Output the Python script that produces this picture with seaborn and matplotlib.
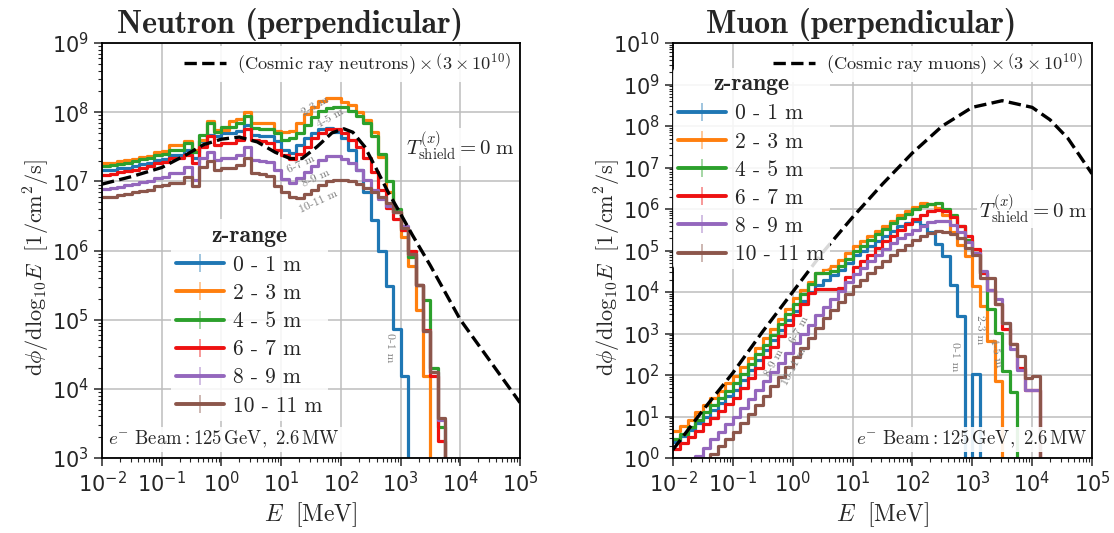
import numpy as np
import pandas as pd
import matplotlib
matplotlib.use('Agg')
import matplotlib.pyplot as plt
import seaborn as sns
from matplotlib.lines import Line2D
from matplotlib.colors import to_rgba
from matplotlib.ticker import LogLocator, NullFormatter

# ---- data (log10 values) ----
# histogram bins: width 0.125 in log10(E/MeV), first edge at 10^-2 MeV
log_e_lo = -2.0
dlog_e = 0.125

z_ranges = ['0 - 1 m', '2 - 3 m', '4 - 5 m', '6 - 7 m', '8 - 9 m', '10 - 11 m']

# neutron, log10(dphi/dlog10E), None = empty bin
n_z01 = [7.16, 7.17, 7.19, 7.20, 7.22, 7.25, 7.27, 7.31, 7.32, 7.38,
         7.38, 7.46, 7.34, 7.58, 7.67, 7.65, 7.70, 7.70, 7.73, 7.82,
         7.67, 7.65, 7.65, 7.58, 7.45, 7.41, 7.53, 7.62, 7.70, 7.75,
         7.77, 7.72, 7.62, 7.45, 7.17, 6.85, 6.44, 5.99, 5.48, 4.86,
         4.18]
n_z23 = [7.26, 7.27, 7.29, 7.31, 7.32, 7.35, 7.37, 7.42, 7.44, 7.52,
         7.52, 7.58, 7.45, 7.60, 7.87, 7.74, 7.74, 7.87, 7.90, 8.00,
         7.84, 7.84, 7.84, 7.73, 7.72, 7.73, 7.84, 7.98, 8.07, 8.16,
         8.20, 8.20, 8.15, 8.10, 8.00, 7.88, 7.72, 7.35, 6.85, 6.55,
         6.20, 5.77, 5.14, 4.18]
n_z45 = [7.22, 7.23, 7.25, 7.27, 7.29, 7.32, 7.34, 7.38, 7.40, 7.45,
         7.45, 7.55, 7.43, 7.67, 7.84, 7.72, 7.79, 7.79, 7.84, 7.94,
         7.77, 7.75, 7.75, 7.70, 7.60, 7.62, 7.70, 7.82, 7.93, 8.02,
         8.06, 8.08, 8.08, 8.02, 7.95, 7.85, 7.65, 7.40, 7.00, 6.60,
         6.30, 5.90, 5.50, 5.29, 4.30, 3.45]
n_z67 = [7.09, 7.10, 7.13, 7.15, 7.17, 7.20, 7.22, 7.26, 7.28, 7.34,
         7.34, 7.38, 7.26, 7.50, 7.65, 7.53, 7.55, 7.55, 7.60, 7.75,
         7.60, 7.58, 7.56, 7.46, 7.38, 7.32, 7.40, 7.50, 7.62, 7.70,
         7.75, 7.75, 7.70, 7.60, 7.50, 7.34, 7.14, 6.88, 6.62, 6.45,
         6.30, 6.00, 5.50, 4.85, 4.18, 3.25]
n_z89 = [6.89, 6.90, 6.92, 6.94, 6.96, 6.99, 7.01, 7.05, 7.07, 7.12,
         7.12, 7.21, 7.02, 7.34, 7.43, 7.31, 7.34, 7.34, 7.38, 7.50,
         7.31, 7.29, 7.28, 7.17, 7.03, 6.98, 7.05, 7.14, 7.22, 7.31,
         7.36, 7.36, 7.33, 7.26, 7.17, 7.02, 6.88, 6.74, 6.65, 6.55,
         6.35, 5.95, 5.50, 4.83, 4.25, 3.55]
n_z1011 = [6.77, 6.78, 6.80, 6.82, 6.84, 6.86, 6.88, 6.93, 6.94, 6.98,
           6.98, 7.07, 6.93, 7.21, 7.29, 7.17, 7.19, 7.19, 7.24, 7.34,
           7.12, 7.10, 7.08, 6.93, 6.85, 6.78, 6.76, 6.81, 6.88, 6.95,
           7.00, 7.02, 7.02, 7.00, 6.96, 6.90, 6.85, 6.78, 6.68, 6.55,
           6.32, 5.95, 5.50, 4.83, 4.25, 3.58]

# muon
m_z01 = [0.38, 0.52, 0.68, 0.84, 1.00, 1.16, 1.33, 1.49, 1.65, 1.88,
         2.12, 2.36, 2.60, 2.84, 3.08, 3.32, 3.55, 3.78, 4.00, 4.18,
         4.30, 4.40, 4.52, 4.70, 4.88, 5.00, 5.12, 5.24, 5.36, 5.48,
         5.58, 5.66, 5.70, 5.62, 5.45, 5.15, 4.86, 4.18, 3.42, None,
         2.02]
m_z23 = [0.64, 0.76, 0.92, 1.10, 1.28, 1.45, 1.62, 1.80, 1.97, 2.20,
         2.42, 2.65, 2.88, 3.12, 3.36, 3.60, 3.85, 4.05, 4.25, 4.45,
         4.55, 4.62, 4.76, 4.93, 5.10, 5.22, 5.35, 5.47, 5.60, 5.72,
         5.85, 5.96, 6.06, 6.15, 6.12, 6.02, 5.85, 5.45, 5.14, 4.86,
         4.14, 3.66, 2.82, 1.85]
m_z45 = [0.45, 0.58, 0.74, 0.92, 1.10, 1.27, 1.44, 1.62, 1.80, 2.03,
         2.26, 2.50, 2.73, 2.97, 3.22, 3.46, 3.70, 3.95, 4.20, 4.45,
         4.47, 4.50, 4.62, 4.80, 4.98, 5.12, 5.26, 5.40, 5.53, 5.66,
         5.78, 5.89, 5.99, 6.07, 6.13, 6.14, 6.00, 5.85, 5.60, 5.25,
         4.94, 4.46, 3.60, 3.02, 2.09, 1.60]
m_z67 = [0.22, 0.35, 0.50, 0.66, 0.82, 0.97, 1.13, 1.29, 1.45, 1.68,
         1.92, 2.17, 2.43, 2.68, 2.94, 3.20, 3.45, 3.72, 3.98, 4.07,
         4.07, 4.08, 4.10, 4.35, 4.60, 4.75, 4.90, 5.06, 5.22, 5.36,
         5.50, 5.63, 5.75, 5.85, 5.95, 5.98, 5.96, 5.80, 5.59, 5.35,
         5.03, 4.46, 4.06, 3.70, 3.10, 2.75, 2.17, 1.65, 1.65]
m_z89 = [None, None, None, 0.05, 0.25, 0.45, 0.63, 0.81, 0.98, 1.20,
         1.42, 1.64, 1.86, 2.08, 2.30, 2.53, 2.76, 2.99, 3.21, 3.44,
         3.65, 3.84, 4.03, 4.23, 4.43, 4.59, 4.74, 4.89, 5.04, 5.17,
         5.29, 5.40, 5.50, 5.60, 5.68, 5.72, 5.70, 5.62, 5.45, 5.20,
         4.95, 4.50, 4.06, 3.82, 3.26, 2.62, 2.13, 1.65, 1.65]
m_z1011 = [None, None, None, None, None, 0.10, 0.28, 0.45, 0.62, 0.84,
           1.06, 1.28, 1.50, 1.73, 1.96, 2.20, 2.43, 2.66, 2.90, 3.14,
           3.37, 3.56, 3.76, 3.95, 4.14, 4.30, 4.45, 4.60, 4.75, 4.88,
           5.01, 5.13, 5.25, 5.35, 5.43, 5.46, 5.45, 5.39, 5.30, 5.06,
           4.90, 4.34, 4.34, 3.70, 3.26, 2.74, 2.45, 1.93, 1.97]

# cosmic ray reference curves (x 3e10): log10 E, log10 flux
cr_n_loge = [-2.0, -1.5, -1.0, -0.6, -0.3, 0.0, 0.3, 0.6, 0.9, 1.15, 1.35, 1.6,
             1.85, 2.05, 2.2, 2.4, 2.6, 2.8, 3.0, 3.2, 3.5, 4.0, 4.5, 5.0]
cr_n_logf = [6.96, 7.07, 7.20, 7.38, 7.53, 7.61, 7.64, 7.57, 7.42, 7.33, 7.33, 7.50,
             7.70, 7.76, 7.71, 7.50, 7.17, 6.83, 6.53, 6.22, 5.78, 5.00, 4.40, 3.80]
cr_m_loge = [-2.0, -1.5, -1.0, -0.5, 0.0, 0.5, 1.0, 1.5, 2.0, 2.5, 3.0, 3.5,
             4.0, 4.3, 4.6, 5.0]
cr_m_logf = [0.20, 1.15, 2.05, 3.05, 4.00, 4.95, 5.80, 6.60, 7.35, 8.00, 8.45, 8.61,
             8.45, 8.15, 7.70, 6.85]

colors = ['#1f77b4', '#ff7f0e', '#2ca02c', '#ee1111', '#9467bd', '#8c564b']


def stairs(vals, floor=1e-6):
    xs, ys = [], []
    for i, v in enumerate(vals):
        xs.append(10 ** (log_e_lo + i * dlog_e))
        ys.append(floor if v is None else 10 ** v)
    xs.append(10 ** (log_e_lo + len(vals) * dlog_e))
    ys.append(ys[-1])
    xs.append(xs[-1])
    ys.append(floor)
    return xs, ys


def to_frame(series):
    rows = []
    for name, vals in zip(z_ranges, series):
        xs, ys = stairs(vals)
        rows.append(pd.DataFrame({'E': xs, 'flux': ys, 'z': name}))
    return pd.concat(rows, ignore_index=True)


sns.set_style('ticks')
plt.rcParams['font.family'] = ['DejaVu Sans']
plt.rcParams['mathtext.fontset'] = 'cm'

fig = plt.figure(figsize=(11.14, 5.33), dpi=100)
ax_n = fig.add_axes([0.0916, 0.1407, 0.3752, 0.7786])
ax_m = fig.add_axes([0.6041, 0.1407, 0.3761, 0.7786])

panels = [
    (ax_n, [n_z01, n_z23, n_z45, n_z67, n_z89, n_z1011], cr_n_loge, cr_n_logf,
     'Neutron (perpendicular)', 'neutrons', (3, 9)),
    (ax_m, [m_z01, m_z23, m_z45, m_z67, m_z89, m_z1011], cr_m_loge, cr_m_logf,
     'Muon (perpendicular)', 'muons', (0, 10)),
]

for ax, series, cr_x, cr_y, title, particle, ydec in panels:
    ax.set_xscale('log')
    ax.set_yscale('log')
    df = to_frame(series)
    sns.lineplot(data=df, x='E', y='flux', hue='z', hue_order=z_ranges,
                 palette=colors, estimator=None, sort=False,
                 drawstyle='steps-post', lw=2.3, legend=False, ax=ax)
    sns.lineplot(x=[10 ** v for v in cr_x], y=[10 ** v for v in cr_y],
                 color='black', linestyle='--', lw=2.4, sort=False,
                 estimator=None, ax=ax, zorder=5)

    ax.set_xticks([10.0 ** k for k in range(-2, 6)])
    ax.set_yticks([10.0 ** k for k in range(ydec[0], ydec[1] + 1)])
    ax.set_xlim(1e-2, 1e5)
    ax.set_ylim(10.0 ** ydec[0], 10.0 ** ydec[1])
    ax.xaxis.set_minor_locator(LogLocator(base=10, subs=np.arange(2, 10), numticks=100))
    ax.yaxis.set_minor_locator(LogLocator(base=10, subs=np.arange(2, 10), numticks=100))
    ax.xaxis.set_minor_formatter(NullFormatter())
    ax.yaxis.set_minor_formatter(NullFormatter())
    ax.grid(True, which='major', color='#bdbdbd', lw=1.1)
    ax.tick_params(which='major', labelsize=15, length=6, width=1.1)
    ax.tick_params(which='minor', length=3, width=0.8)
    for sp in ax.spines.values():
        sp.set_linewidth(1.3)
        sp.set_color('black')

    ax.set_xlabel(r'$E\ \ [\mathrm{MeV}]$', fontsize=17, labelpad=3)
    ax.set_ylabel(r'$\mathrm{d}\phi/\mathrm{dlog}_{10}E\ \ [1/\mathrm{cm}^2/\mathrm{s}]$',
                  fontsize=16)
    ax.yaxis.set_label_coords(-0.12, 0.46)
    ax.set_title(title, fontfamily='cmb10', fontsize=23, x=0.45, pad=7)

    # cosmic ray legend
    cr_handle = Line2D([], [], color='black', ls='--', lw=2.4)
    cr_leg = ax.legend([cr_handle],
                       [r'$\mathrm{(Cosmic\ ray\ %s)}\times\left(3\times10^{10}\right)$' % particle],
                       loc='upper right', fontsize=13.2, handlelength=2.3,
                       frameon=True, framealpha=0.9, edgecolor='none',
                       borderaxespad=0.15, borderpad=0.3, handletextpad=0.6)
    ax.add_artist(cr_leg)

    # z-range legend
    handles = [Line2D([], [], color=c, lw=2.8, marker='|', ms=13, mew=1.2,
                      mec=to_rgba(c, 0.5)) for c in colors]
    if ax is ax_n:
        leg_kw = dict(loc='upper left', bbox_to_anchor=(0.165, 0.575))
    else:
        leg_kw = dict(loc='upper left', bbox_to_anchor=(0.0, 0.94))
    ax.legend(handles, z_ranges, title='z-range',
              prop={'family': 'cmr10', 'size': 15.5},
              title_fontproperties={'family': 'cmb10', 'size': 17},
              handlelength=2.2, handletextpad=0.45, labelspacing=0.4,
              borderpad=0.25, borderaxespad=0, frameon=True, framealpha=0.85,
              edgecolor='none', **leg_kw)

    tb = dict(fc='white', ec='none', pad=1.5, alpha=0.9)
    if ax is ax_n:
        ax.text(0.988, 0.75, r'$T^{(x)}_{\mathrm{shield}}=0\ \mathrm{m}$', fontsize=15,
                ha='right', va='center', transform=ax.transAxes, bbox=tb)
        ax.text(0.015, 0.045, r'$e^{-}\ \mathrm{Beam}:125\,\mathrm{GeV},\ 2.6\,\mathrm{MW}$',
                fontsize=13.5, ha='left', va='center', transform=ax.transAxes, bbox=tb)
    else:
        ax.text(0.99, 0.6, r'$T^{(x)}_{\mathrm{shield}}=0\ \mathrm{m}$', fontsize=15,
                ha='right', va='center', transform=ax.transAxes, bbox=tb)
        ax.text(0.99, 0.045, r'$e^{-}\ \mathrm{Beam}:125\,\mathrm{GeV},\ 2.6\,\mathrm{MW}$',
                fontsize=13.5, ha='right', va='center', transform=ax.transAxes, bbox=tb)

# small labels along the curves
lab = dict(fontfamily='cmr10', fontsize=8.5, color='#7f7f7f', ha='center', va='center',
           rotation_mode='anchor', zorder=6)
ax_n.text(10 ** 1.57, 10 ** 8.09, '2-3 m', rotation=30, **lab)
ax_n.text(10 ** 1.82, 10 ** 7.91, '4-5 m', rotation=30, **lab)
ax_n.text(10 ** 1.34, 10 ** 7.24, '6-7 m', rotation=25, **lab)
ax_n.text(10 ** 1.58, 10 ** 7.05, '8-9 m', rotation=25, **lab)
ax_n.text(10 ** 1.62, 10 ** 6.71, '10-11 m', rotation=25, **lab)
ax_n.text(10 ** 2.82, 10 ** 4.6, '0-1 m', rotation=-90, **lab)

ax_m.text(10 ** 2.7, 10 ** 2.45, '0-1 m', rotation=-90, **lab)
ax_m.text(10 ** 3.12, 10 ** 3.1, '2-3 m', rotation=-90, **lab)
ax_m.text(10 ** 3.39, 10 ** 2.54, '4-5 m', rotation=-78, **lab)
ax_m.text(10 ** -0.3, 10 ** 2.3, '8-9 m', rotation=62, **lab)
ax_m.text(10 ** 0.12, 10 ** 3.1, '6-7 m', rotation=62, **lab)
ax_m.text(10 ** 0.03, 10 ** 2.2, '10-11 m', rotation=62, **lab)

fig.savefig('out.png', dpi=100)
